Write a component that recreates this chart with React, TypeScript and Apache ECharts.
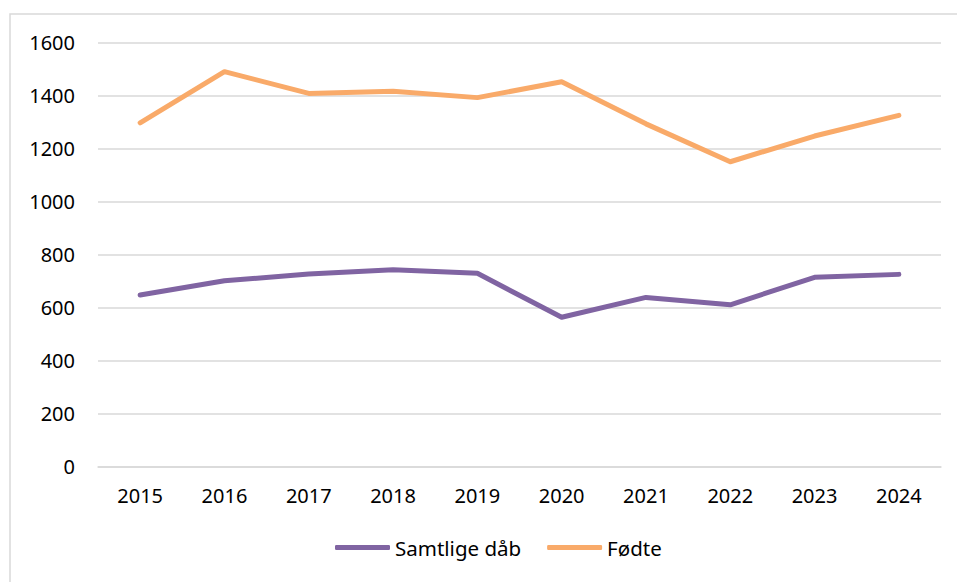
import React, { useEffect, useRef } from "react";
import * as echarts from "echarts";

const years = ["2015", "2016", "2017", "2018", "2019", "2020", "2021", "2022", "2023", "2024"];
const samtligeDaab = [647, 701, 726, 742, 729, 563, 638, 610, 714, 725];
const fodte = [1297, 1490, 1408, 1416, 1392, 1452, 1293, 1150, 1247, 1325];
const seriesNames = ["Samtlige dåb", "Fødte"];

const FONT = "'Noto Sans', sans-serif";

export default function App() {
  const ref = useRef<HTMLDivElement>(null);
  useEffect(() => {
    if (!ref.current) return;
    const chart = echarts.init(ref.current, undefined, { renderer: "svg" });
    chart.setOption({
      animation: false,
      backgroundColor: "#ffffff",
      graphic: [
        {
          type: "rect",
          shape: { x: 10, y: 14, width: 980, height: 600 },
          style: { fill: "none", stroke: "#d9d9d9", lineWidth: 1.5 },
          silent: true,
          z: -1,
        },
      ],
      grid: { left: 98, right: 16, top: 42.5, bottom: 115.5, containLabel: false },
      legend: {
        data: seriesNames,
        bottom: 19,
        left: 330,
        itemWidth: 55,
        itemHeight: 5,
        itemGap: 26,
        icon: "roundRect",
        textStyle: { fontFamily: FONT, fontSize: 20.5, color: "#000000" },
      },
      xAxis: {
        type: "category",
        data: years,
        boundaryGap: true,
        axisLine: { lineStyle: { color: "#d9d9d9", width: 1.5 } },
        axisTick: { show: false },
        axisLabel: { margin: 19, fontFamily: FONT, fontSize: 20, color: "#000000" },
      },
      yAxis: {
        type: "value",
        min: 0,
        max: 1600,
        interval: 200,
        axisLine: { show: false },
        axisTick: { show: false },
        splitLine: { lineStyle: { color: "#d9d9d9", width: 1.5 } },
        axisLabel: {
          margin: 23,
          fontFamily: FONT,
          fontSize: 20,
          color: "#000000",
          formatter: (v: number) => String(v),
        },
      },
      series: [
        {
          name: seriesNames[0],
          type: "line",
          data: samtligeDaab,
          symbol: "none",
          color: "#8064a2",
          lineStyle: { color: "#8064a2", width: 5, cap: "round", join: "round" },
        },
        {
          name: seriesNames[1],
          type: "line",
          data: fodte,
          symbol: "none",
          color: "#f9aa69",
          lineStyle: { color: "#f9aa69", width: 5, cap: "round", join: "round" },
        },
      ],
    });
    return () => chart.dispose();
  }, []);
  return (
    <div
      ref={ref}
      style={{ position: "fixed", left: 0, top: 0, width: 957, height: 582, background: "#fff" }}
    />
  );
}
